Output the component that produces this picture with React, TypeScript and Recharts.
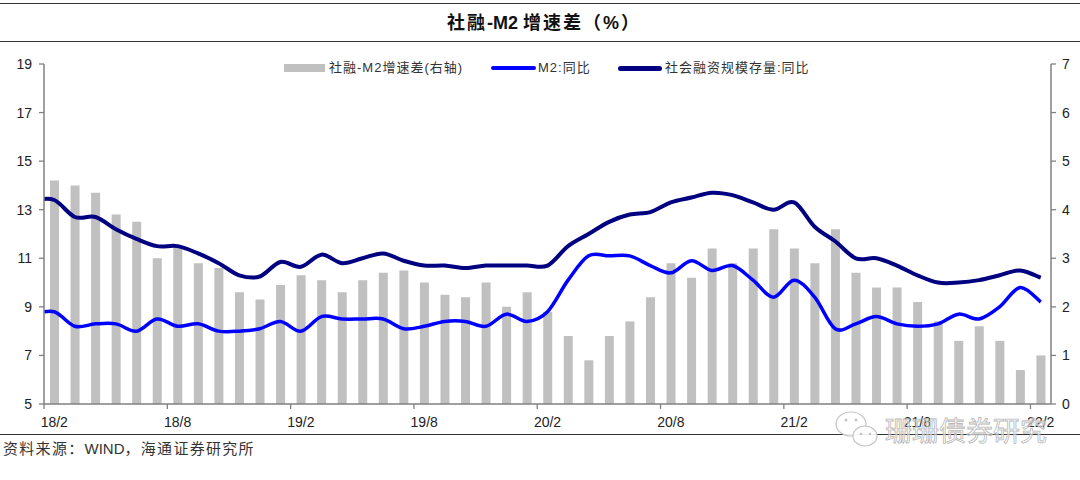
import React from "react";
import { ComposedChart, Bar, Line, XAxis, YAxis, Legend } from "recharts";

const months = ["18/1","18/2","18/3","18/4","18/5","18/6","18/7","18/8","18/9","18/10","18/11","18/12","19/1","19/2","19/3","19/4","19/5","19/6","19/7","19/8","19/9","19/10","19/11","19/12","20/1","20/2","20/3","20/4","20/5","20/6","20/7","20/8","20/9","20/10","20/11","20/12","21/1","21/2","21/3","21/4","21/5","21/6","21/7","21/8","21/9","21/10","21/11","21/12","22/1","22/2"];
const m2Growth = [8.7,8.8,8.2,8.3,8.3,8.0,8.5,8.2,8.3,8.0,8.0,8.1,8.4,8.0,8.6,8.5,8.5,8.5,8.1,8.2,8.4,8.4,8.2,8.7,8.4,8.8,10.1,11.1,11.1,11.1,10.7,10.4,10.9,10.5,10.7,10.1,9.4,10.1,9.4,8.1,8.3,8.6,8.3,8.2,8.3,8.7,8.5,9.0,9.8,9.2];
const socialGrowth = [13.4,13.4,12.7,12.7,12.2,11.8,11.5,11.5,11.2,10.8,10.3,10.25,10.85,10.65,11.15,10.8,11.0,11.2,10.9,10.7,10.7,10.6,10.7,10.7,10.7,10.7,11.5,12.0,12.5,12.8,12.9,13.3,13.5,13.7,13.6,13.3,13.0,13.3,12.3,11.7,11.0,11.0,10.7,10.3,10.0,10.0,10.1,10.3,10.5,10.2];
const gapBars = [null,4.6,4.5,4.35,3.9,3.75,3.0,3.25,2.9,2.8,2.3,2.15,2.45,2.65,2.55,2.3,2.55,2.7,2.75,2.5,2.25,2.2,2.5,2.0,2.3,1.9,1.4,0.9,1.4,1.7,2.2,2.9,2.6,3.2,2.9,3.2,3.6,3.2,2.9,3.6,2.7,2.4,2.4,2.1,1.7,1.3,1.6,1.3,0.7,1.0];
const leftTicks = [5,7,9,11,13,15,17,19];
const rightTicks = [0,1,2,3,4,5,6,7];
const xTicks = [0,6,12,18,24,30,36,42,48];
const legendNames = ["社融-M2增速差(右轴)","M2:同比","社会融资规模存量:同比"];

const data = months.map((m, k) => ({ idx: k - 1, month: m, gap: gapBars[k], m2: m2Growth[k], social: socialGrowth[k] }));

// Excel-style smoothed line: Catmull-Rom through every point
function excelSmooth(context: any) {
  let pts: number[][] = [];
  return {
    areaStart() {},
    areaEnd() {},
    lineStart() { pts = []; },
    point(x: number, y: number) { pts.push([+x, +y]); },
    lineEnd() {
      if (!pts.length) return;
      context.moveTo(pts[0][0], pts[0][1]);
      for (let i = 0; i < pts.length - 1; i++) {
        const p0 = pts[Math.max(0, i - 1)], p1 = pts[i], p2 = pts[i + 1], p3 = pts[Math.min(pts.length - 1, i + 2)];
        context.bezierCurveTo(
          p1[0] + (p2[0] - p0[0]) / 6, p1[1] + (p2[1] - p0[1]) / 6,
          p2[0] - (p3[0] - p1[0]) / 6, p2[1] - (p3[1] - p1[1]) / 6,
          p2[0], p2[1]
        );
      }
    },
  };
}

const AXIS = "#808080";
const LATIN = "'Liberation Sans', Arial, sans-serif";
const CJK = "'Liberation Sans', 'Noto Sans CJK SC', sans-serif";
const TEXT = "#222222";

function XTick(props: any) {
  const { x, y, payload } = props;
  const half = 10.27;
  return (
    <g>
      <line x1={x - half} x2={x - half} y1={y - 8} y2={y - 3} stroke={AXIS} strokeWidth={1.3} />
      <text x={x} y={y + 15} textAnchor="middle" fontSize={14} fontFamily={LATIN} fill={TEXT}>
        {months[payload.value + 1]}
      </text>
    </g>
  );
}

function LegendContent() {
  const row: React.CSSProperties = { position: "absolute", top: 0, height: 16, lineHeight: "16px", fontSize: 13, letterSpacing: 1, fontFamily: CJK, color: "#333", whiteSpace: "nowrap" };
  return (
    <div style={{ position: "relative", width: 1080, height: 16 }}>
      <div style={{ position: "absolute", left: 284, top: 4, width: 41, height: 8, background: "#c0c0c0" }} />
      <div style={{ ...row, left: 329 }}>{legendNames[0]}</div>
      <div style={{ position: "absolute", left: 491, top: 6, width: 45, height: 4, borderRadius: 2, background: "#0000ff" }} />
      <div style={{ ...row, left: 538 }}>{legendNames[1]}</div>
      <div style={{ position: "absolute", left: 618, top: 6, width: 44, height: 5, borderRadius: 2.5, background: "#000080" }} />
      <div style={{ ...row, left: 665 }}>{legendNames[2]}</div>
    </div>
  );
}

function Rule({ y }: { y: number }) {
  return <div style={{ position: "absolute", left: 0, top: y, width: 1080, height: 1, background: "#333" }} />;
}

export default function App() {
  return (
    <div style={{ position: "absolute", left: 0, top: 0, width: 1080, height: 480, background: "#fff", overflow: "hidden" }}>
      <Rule y={3} />
      <Rule y={41} />
      <Rule y={434} />
      <div style={{ position: "absolute", left: 0, top: 12, width: 1088, textAlign: "center", fontSize: 18, letterSpacing: 2, fontWeight: 700, lineHeight: "22px", fontFamily: CJK, color: "#111" }}>
        社融<span style={{ letterSpacing: 0 }}>-M2 </span>增速差（%）
      </div>
      <div style={{ position: "absolute", left: 3, top: 440, fontSize: 15, letterSpacing: 1.3, lineHeight: "18px", fontFamily: CJK, color: "#333" }}>
        资料来源：<span style={{ letterSpacing: 0 }}>WIND</span>，海通证券研究所
      </div>
      <ComposedChart width={1080} height={480} data={data} margin={{ top: 48, right: 0, bottom: 46, left: 0 }} style={{ position: "absolute", left: 0, top: 0 }}>
        <XAxis xAxisId="x" dataKey="idx" type="number" domain={[-0.5, 48.5]} allowDataOverflow ticks={xTicks} interval={0} height={30} tick={<XTick />} tickLine={false} axisLine={{ stroke: AXIS, strokeWidth: 1.5 }} />
        <YAxis yAxisId="l" orientation="left" width={44} domain={[5, 19]} ticks={leftTicks} interval={0} tick={{ fontSize: 14, fontFamily: LATIN, fill: TEXT }} tickSize={5} tickMargin={7} tickLine={{ stroke: AXIS, strokeWidth: 1.3 }} axisLine={{ stroke: AXIS, strokeWidth: 1.5 }} />
        <YAxis yAxisId="r" orientation="right" width={29} domain={[0, 7]} ticks={rightTicks} interval={0} tick={{ fontSize: 14, fontFamily: LATIN, fill: TEXT }} tickSize={5} tickMargin={6} tickLine={{ stroke: AXIS, strokeWidth: 1.3 }} axisLine={{ stroke: AXIS, strokeWidth: 1.5 }} />
        <Legend verticalAlign="top" content={<LegendContent />} wrapperStyle={{ position: "absolute", left: 0, top: 60, width: 1080, height: 16 }} />
        <Bar xAxisId="x" yAxisId="r" dataKey="gap" name={legendNames[0]} fill="#c0c0c0" barSize={9} isAnimationActive={false} />
        <Line xAxisId="x" yAxisId="l" dataKey="m2" name={legendNames[1]} type={excelSmooth as any} stroke="#0000ff" strokeWidth={3.5} dot={false} activeDot={false} isAnimationActive={false} />
        <Line xAxisId="x" yAxisId="l" dataKey="social" name={legendNames[2]} type={excelSmooth as any} stroke="#000080" strokeWidth={4} dot={false} activeDot={false} isAnimationActive={false} />
      </ComposedChart>
      <svg width={1080} height={480} style={{ position: "absolute", left: 0, top: 0, pointerEvents: "none" }}>
        <g fill="#ffffff" fillOpacity={0.9} stroke="#c4c4c4" strokeWidth={1.2}>
          <ellipse cx={851} cy={424} rx={15} ry={12} />
          <ellipse cx={865} cy={436} rx={12} ry={10} />
        </g>
        <g fill="#c4c4c4">
          <circle cx={846} cy={420} r={1.5} /><circle cx={856} cy={420} r={1.5} />
          <circle cx={861} cy={434} r={1.3} /><circle cx={870} cy={434} r={1.3} />
        </g>
        <text x={885} y={441} fontSize={27} fontFamily="'Noto Sans CJK SC', sans-serif" fill="#ffffff" stroke="#b8b8b8" strokeWidth={0.8} fillOpacity={0.55}>珊珊债券研究</text>
      </svg>
    </div>
  );
}
